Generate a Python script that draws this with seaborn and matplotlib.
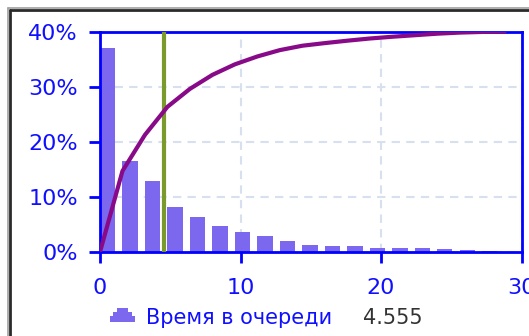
import numpy as np
import pandas as pd
import matplotlib
matplotlib.use("Agg")
import matplotlib.pyplot as plt
import seaborn as sns
from matplotlib.patches import Polygon
from matplotlib.lines import Line2D

# Queue waiting time histogram (share of customers per bin, %)
bin_width = 1.6
share = [37.0, 16.5, 12.8, 8.2, 6.4, 4.8, 3.6, 2.9, 2.0, 1.2,
         1.1, 1.0, 0.8, 0.7, 0.7, 0.5, 0.3, 0.2]
mean_wait = 4.555
x_ticks = [0, 10, 20, 30]
y_ticks = [0, 10, 20, 30, 40]
series_label = "Время в очереди"

W, H = 529, 336
BLUE = "#1010ff"
BAR = "#7b68ee"

sns.set_style("white")
plt.rcParams["font.family"] = ["DejaVu Sans"]

fig = plt.figure(figsize=(W / 100, H / 100), dpi=100)
ax = fig.add_axes([100 / W, (H - 252) / H, (521.5 - 100) / W, (252 - 31.5) / H])

left_edges = np.arange(len(share)) * bin_width
bar_frac = 0.68
df = pd.DataFrame({"x": left_edges + bin_width * bar_frac / 2, "share": share})
sns.barplot(data=df, x="x", y="share", native_scale=True, width=bar_frac,
            color=BAR, saturation=1, errorbar=None, linewidth=0, ax=ax)

ax.axvline(mean_wait, color="#7a9a2c", lw=3, zorder=3)

ax.set_xlim(0, 30)
ax.set_ylim(0, 40)
ax.set_xticks(x_ticks)
ax.set_yticks(y_ticks)
ax.set_xticklabels([str(t) for t in x_ticks])
ax.set_yticklabels([f"{t}%" for t in y_ticks])
ax.set_xlabel("")
ax.set_ylabel("")
ax.set_axisbelow(True)
ax.grid(True, color="#d6e0ee", lw=1.5, linestyle=(0, (4, 3)))
for sp in ax.spines.values():
    sp.set_visible(True)
    sp.set_color("#0000ff")
    sp.set_linewidth(2)
ax.tick_params(axis="both", colors="#0000ff", labelcolor=BLUE, length=8,
               width=2, direction="out", labelsize=16)
ax.tick_params(axis="y", pad=8)
ax.tick_params(axis="x", pad=11)
ax.tick_params(left=True, bottom=True)

# Cumulative share on a hidden 0-100% scale
edges = np.arange(len(share) + 1) * bin_width
cum = np.concatenate([[0.0], np.cumsum(share)])
cum = cum / cum[-1] * 100
ax2 = ax.twinx()
sns.lineplot(x=edges, y=cum, ax=ax2, color="#880a88", lw=3)
ax2.set_ylim(0, 100)
ax2.axis("off")

# Legend row
def fx(px):
    return px / W

def fy(py):
    return 1 - py / H

icon = [(110, 321.5), (110, 315.5), (112.5, 315.5), (112.5, 311.5), (116.5, 311.5),
        (116.5, 307.5), (127.5, 307.5), (127.5, 311.5), (132, 311.5),
        (132, 315.5), (135, 315.5), (135, 321.5)]
fig.add_artist(Polygon([(fx(a), fy(b)) for a, b in icon], closed=True,
                       transform=fig.transFigure, facecolor=BAR, edgecolor="none"))
fig.text(fx(146), fy(324), series_label, color=BLUE, fontsize=15, va="baseline")
fig.text(fx(363), fy(324), f"{mean_wait:.3f}", color="#333333", fontsize=15,
         va="baseline")

# Panel frame
for pos, col, lw in [(7.5, "#a0a0a0", 1.2), (9.8, "#2a2a2a", 2.0)]:
    fig.add_artist(Line2D([fx(pos), 1], [fy(pos), fy(pos)], transform=fig.transFigure,
                          color=col, lw=lw))
    fig.add_artist(Line2D([fx(pos), fx(pos)], [fy(pos), 0], transform=fig.transFigure,
                          color=col, lw=lw))

fig.savefig("out.png", dpi=100)
